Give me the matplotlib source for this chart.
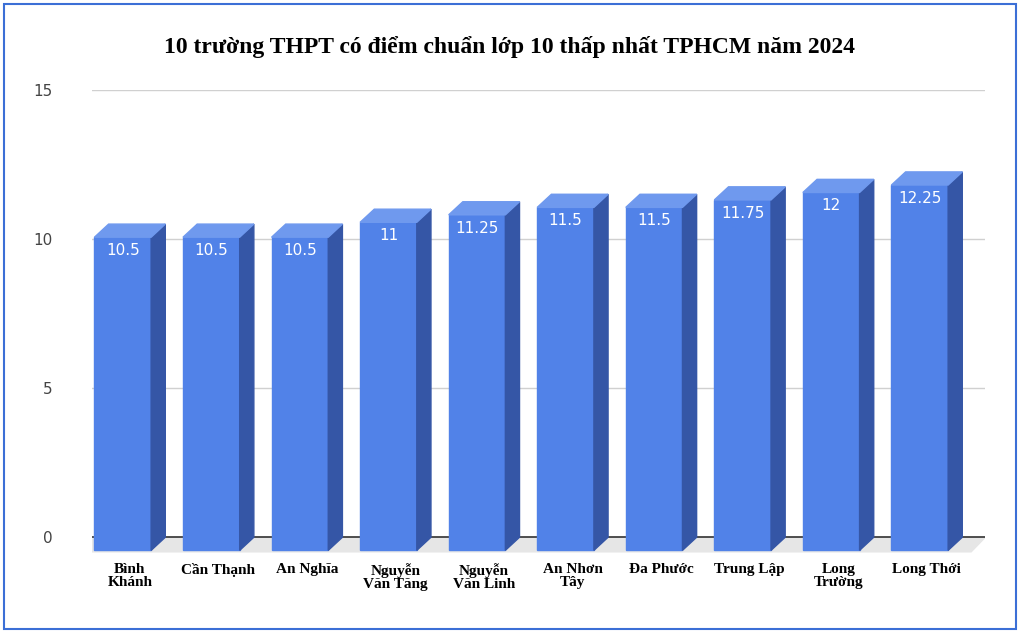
import matplotlib.pyplot as plt
from matplotlib.patches import Polygon, Rectangle

schools = ["Bình\nKhánh", "Cần Thạnh", "An Nghĩa", "Nguyễn\nVăn Tăng", "Nguyễn\nVăn Linh",
           "An Nhơn\nTây", "Đa Phước", "Trung Lập", "Long\nTrường", "Long Thới"]
scores = [10.5, 10.5, 10.5, 11, 11.25, 11.5, 11.5, 11.75, 12, 12.25]
labels = ["10.5", "10.5", "10.5", "11", "11.25", "11.5", "11.5", "11.75", "12", "12.25"]
yticks = [0, 5, 10, 15]

fig = plt.figure(figsize=(10.2, 6.33), dpi=100)
ax = fig.add_axes([0.09, 0.123, 0.876, 0.735])
ax.set_xlim(-0.51, 9.58)
ax.set_ylim(-0.6, 15)

# 3d depth offsets in data units
dx, dy = 0.16, 0.44
w = 0.64

# floor
ax.add_patch(Polygon([(-0.51 - dx, -dy - 0.05), (9.58 - dx, -dy - 0.05), (9.58, 0), (-0.51 + dx * 0.2, 0)],
                     closed=True, color="#e6e6e6", zorder=1))
for t in yticks[1:]:
    ax.axhline(t, color="#d0d0d0", lw=1, zorder=0.5)
ax.axhline(0, color="#333333", lw=1.2, zorder=1.2)

front_c, side_c, top_c = "#5182e8", "#3556a6", "#6f99ee"
for i, v in enumerate(scores):
    x0 = i - dx - w / 2
    x1 = x0 + w
    b, t = -dy, v - dy
    ax.add_patch(Rectangle((x0, b), w, v, color=front_c, zorder=3))
    ax.add_patch(Polygon([(x1, b), (x1 + dx, b + dy), (x1 + dx, t + dy), (x1, t)], color=side_c, zorder=3))
    ax.add_patch(Polygon([(x0, t), (x1, t), (x1 + dx, t + dy), (x0 + dx, t + dy)], color=top_c, zorder=3))
    ax.text(i - dx, t - 0.45, labels[i], color="white", ha="center", va="center",
            fontsize=11, family="DejaVu Sans", zorder=4)

ax.set_yticks(yticks)
ax.set_yticklabels([str(t) for t in yticks], color="#444444", fontsize=11)
ax.tick_params(axis="y", length=0, pad=28)
ax.set_xticks([i - dx / 2 for i in range(len(schools))])
ax.set_xticklabels(schools, family="Liberation Serif", fontweight="bold", fontsize=11,
                   linespacing=1.0, va="top")
ax.tick_params(axis="x", length=0, pad=6)
for s in ax.spines.values():
    s.set_visible(False)

fig.text(0.5, 0.925, "10 trường THPT có điểm chuẩn lớp 10 thấp nhất TPHCM năm 2024",
         ha="center", va="center", family="Liberation Serif", fontweight="bold", fontsize=17)

# selection frame
fig.add_artist(Rectangle((0.004, 0.006), 0.992, 0.988, transform=fig.transFigure,
                         fill=False, ec="#3b6fd6", lw=1.5))

fig.savefig("out.png", dpi=100)
